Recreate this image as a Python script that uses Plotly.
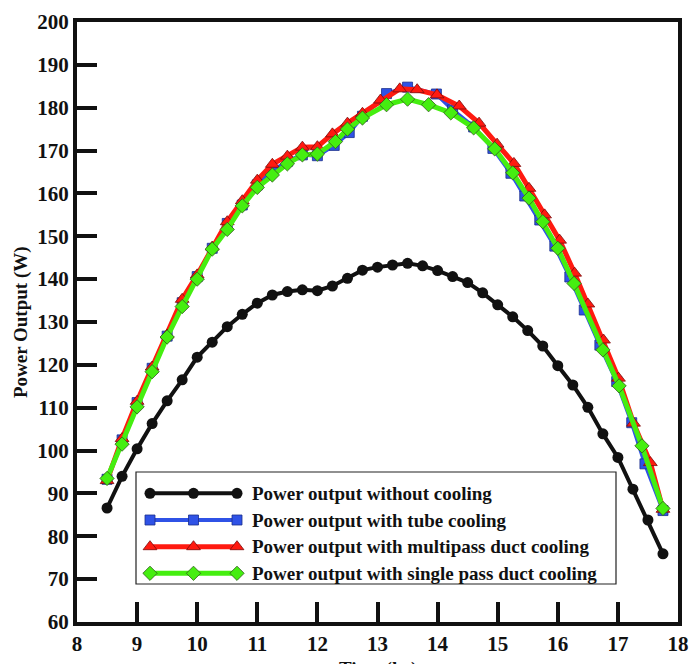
import plotly.graph_objects as go

# ---------------- data ----------------
t_none = [8.5, 8.75, 9.0, 9.25, 9.5, 9.75, 10.0, 10.25, 10.5, 10.75, 11.0, 11.25, 11.5,
          11.75, 12.0, 12.25, 12.5, 12.75, 13.0, 13.25, 13.5, 13.75, 14.0, 14.25, 14.5,
          14.75, 15.0, 15.25, 15.5, 15.75, 16.0, 16.25, 16.5, 16.75, 17.0, 17.25, 17.5, 17.75]
p_none = [86.6, 94.0, 100.4, 106.3, 111.6, 116.5, 121.8, 125.3, 128.9, 131.8, 134.4, 136.3,
          137.1, 137.5, 137.3, 138.4, 140.2, 142.1, 142.8, 143.3, 143.7, 143.1, 142.0, 140.6,
          139.2, 136.8, 134.0, 131.2, 128.0, 124.4, 119.8, 115.3, 110.1, 103.9, 98.4, 91.0,
          83.8, 75.9]

t_tube = [8.5, 8.75, 9.0, 9.25, 9.5, 9.75, 10.0, 10.25, 10.5, 10.75, 11.0, 11.25, 11.5,
          11.75, 12.0, 12.28, 12.53, 12.75, 13.15, 13.5, 13.98, 14.25, 14.6, 14.92, 15.22,
          15.45, 15.7, 15.95, 16.2, 16.44, 16.7, 16.98, 17.23, 17.45, 17.75]
p_tube = [93.3, 102.5, 111.2, 119.2, 126.7, 134.5, 140.6, 147.2, 153.0, 157.3, 162.0, 165.2,
          167.5, 169.0, 168.8, 171.2, 174.2, 178.0, 183.3, 184.8, 183.2, 179.5, 175.5, 170.5,
          164.7, 159.4, 153.8, 147.7, 140.5, 132.8, 124.6, 116.1, 106.5, 96.9, 86.0]

t_multi = [8.5, 8.75, 9.0, 9.25, 9.5, 9.75, 10.0, 10.25, 10.5, 10.75, 11.0, 11.25, 11.5,
           11.75, 12.0, 12.25, 12.5, 12.75, 13.05, 13.37, 13.66, 13.99, 14.36, 14.69, 14.99,
           15.27, 15.52, 15.78, 16.03, 16.28, 16.5, 16.76, 17.01, 17.26, 17.54, 17.75]
p_multi = [93.0, 102.8, 111.5, 119.5, 127.0, 135.3, 141.0, 147.5, 153.4, 158.3, 163.1, 166.8,
           168.7, 170.8, 170.9, 173.9, 176.4, 178.7, 181.8, 184.4, 184.2, 183.0, 180.4, 176.4,
           171.5, 167.0, 161.2, 155.0, 149.1, 141.4, 134.2, 125.8, 116.9, 106.4, 97.2, 86.3]

t_single = [8.5, 8.75, 9.0, 9.25, 9.5, 9.75, 10.0, 10.25, 10.5, 10.75, 11.0, 11.25, 11.5,
            11.75, 12.0, 12.3, 12.5, 12.75, 13.15, 13.5, 13.85, 14.22, 14.6, 14.95, 15.25,
            15.52, 15.75, 16.0, 16.27, 16.75, 17.02, 17.4, 17.75]
p_single = [93.5, 101.5, 110.2, 118.4, 126.5, 133.6, 140.0, 147.0, 151.6, 157.1, 161.4, 164.3,
            166.9, 169.0, 169.2, 172.1, 175.0, 177.6, 180.7, 182.0, 180.7, 178.8, 175.3, 170.4,
            164.8, 158.9, 153.4, 147.2, 139.0, 123.5, 115.1, 101.1, 86.5]

series_names = ["Power output without cooling",
                "Power output with tube cooling",
                "Power output with multipass duct cooling",
                "Power output with single pass duct cooling"]

x_ticks = [8, 9, 10, 11, 12, 13, 14, 15, 16, 17, 18]
y_ticks = [60, 70, 80, 90, 100, 110, 120, 130, 140, 150, 160, 170, 180, 190, 200]

# ---------------- styles ----------------
FONT = "Liberation Serif"
styles = [
    dict(line=dict(color="#111111", width=4),
         marker=dict(symbol="circle", size=11, color="#111111")),
    dict(line=dict(color="#2f52e6", width=4),
         marker=dict(symbol="square", size=10, color="#2f52e6",
                     line=dict(color="#1a2f8a", width=0.8))),
    dict(line=dict(color="#ff1a10", width=5),
         marker=dict(symbol="triangle-up", size=12, color="#ff1a10",
                     line=dict(color="#7a0a0a", width=0.8))),
    dict(line=dict(color="#45ee10", width=5),
         marker=dict(symbol="diamond", size=11, color="#45ee10",
                     line=dict(color="#2f5a1a", width=0.8))),
]
data = [(t_none, p_none), (t_tube, p_tube), (t_multi, p_multi), (t_single, p_single)]

fig = go.Figure()
for (tx, py), st, nm in zip(data, styles, series_names):
    fig.add_trace(go.Scatter(x=tx, y=py, mode="lines+markers", name=nm,
                             showlegend=False, cliponaxis=False, **st))

# ---------------- layout geometry (page has an 8px body margin) ----------------
PAGE_OFF = 8
W, H = 700 - PAGE_OFF, 664 - PAGE_OFF
L, R, T, B = 77, 678, 22, 622          # plot area in window pixels

# custom legend drawn on pixel-like overlay axes
box = dict(x0=136, x1=616, y0=472, y1=584)
row_y = [493.3, 520.0, 546.7, 573.3]
sample_x = [150, 193.5, 237]
text_x = 250

fig.add_shape(type="rect", xref="x2", yref="y2", x0=box["x0"], x1=box["x1"],
              y0=box["y0"], y1=box["y1"], line=dict(color="#222222", width=1.2),
              fillcolor="white", layer="below")
for ry, st, nm in zip(row_y, styles, series_names):
    fig.add_trace(go.Scatter(x=sample_x, y=[ry] * 3, xaxis="x2", yaxis="y2",
                             mode="lines+markers", showlegend=False, hoverinfo="skip",
                             cliponaxis=False, **st))
    fig.add_annotation(x=text_x, y=ry, xref="x2", yref="y2", text=nm, showarrow=False,
                       xanchor="left", yanchor="middle",
                       font=dict(family=FONT, size=19, color="#111111", weight="bold"))

# axis titles
fig.add_annotation(x=-0.093, y=0.5, xref="paper", yref="paper", text="Power Output (W)",
                   textangle=-90, showarrow=False, xanchor="center", yanchor="middle",
                   font=dict(family=FONT, size=19, color="#111111", weight="bold"))
fig.add_annotation(x=0.5, y=-0.056, xref="paper", yref="paper", text="Time (hr)",
                   showarrow=False, xanchor="center", yanchor="top",
                   font=dict(family=FONT, size=19, color="#111111", weight="bold"))

axis_common = dict(showgrid=False, zeroline=False, showline=True, linecolor="#111111",
                   linewidth=4, mirror=True, ticks="inside", ticklen=20, tickwidth=4,
                   tickcolor="#111111", automargin=False,
                   tickfont=dict(family=FONT, size=21, color="#111111", weight="bold"))

fig.update_layout(
    width=W, height=H,
    margin=dict(l=L - PAGE_OFF, r=W - (R - PAGE_OFF), t=T - PAGE_OFF,
                b=H - (B - PAGE_OFF), autoexpand=False),
    paper_bgcolor="white", plot_bgcolor="white",
    xaxis=dict(range=[8, 18], tickvals=x_ticks, **axis_common),
    yaxis=dict(range=[60, 200], tickvals=y_ticks, **axis_common),
    xaxis2=dict(range=[L, R], overlaying="x", visible=False, fixedrange=True),
    yaxis2=dict(range=[B, T], overlaying="y", visible=False, fixedrange=True),
    showlegend=False,
)

fig.write_html("out.html")
